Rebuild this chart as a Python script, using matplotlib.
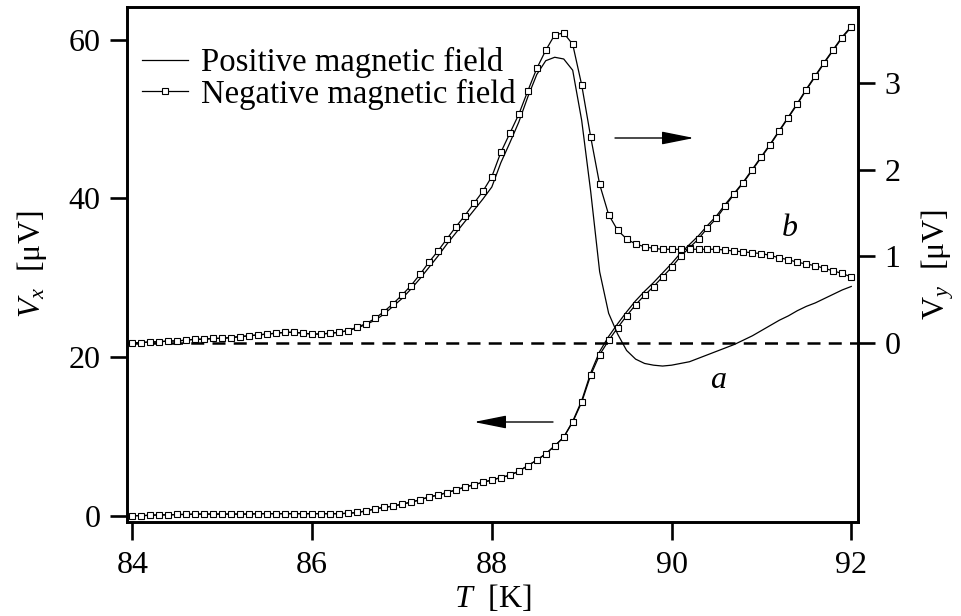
import numpy as np
import matplotlib
matplotlib.use("Agg")
import matplotlib.pyplot as plt
from matplotlib.lines import Line2D

plt.rcParams['font.family'] = ['Liberation Serif', 'DejaVu Serif']
plt.rcParams['mathtext.fontset'] = 'custom'
plt.rcParams['mathtext.rm'] = 'Liberation Serif'
plt.rcParams['mathtext.it'] = 'Liberation Serif:italic'

# temperature grid, K (84.0 ... 92.0 in 0.1 K steps)
T = np.linspace(84.0, 92.0, 81)

# V_x [uV], negative field (squares)
vx_neg = [0.0, 0.0, 0.05, 0.1, 0.1, 0.15, 0.15, 0.2, 0.2, 0.2,
          0.2, 0.2, 0.2, 0.2, 0.25, 0.25, 0.25, 0.25, 0.25, 0.25,
          0.25, 0.25, 0.25, 0.25, 0.3, 0.4, 0.6, 0.85, 1.05, 1.2,
          1.45, 1.7, 2.0, 2.35, 2.6, 2.9, 3.25, 3.6, 3.9, 4.2,
          4.5, 4.8, 5.1, 5.6, 6.3, 7.0, 7.8, 8.8, 9.9, 11.8,
          14.3, 17.7, 20.3, 22.1, 23.7, 25.2, 26.6, 27.8, 28.9, 30.1,
          31.3, 32.7, 33.8, 34.9, 36.3, 37.5, 39.1, 40.6, 42.0, 43.6,
          45.2, 46.8, 48.5, 50.2, 51.9, 53.7, 55.4, 57.1, 58.7, 60.3,
          61.6]

# V_x [uV], positive field (solid)
vx_pos = [0.0, 0.0, 0.05, 0.1, 0.1, 0.15, 0.15, 0.2, 0.2, 0.2,
          0.2, 0.2, 0.2, 0.2, 0.25, 0.25, 0.25, 0.25, 0.25, 0.25,
          0.25, 0.25, 0.25, 0.25, 0.3, 0.4, 0.6, 0.85, 1.05, 1.2,
          1.45, 1.7, 2.0, 2.35, 2.6, 2.9, 3.25, 3.6, 3.9, 4.2,
          4.5, 4.8, 5.1, 5.6, 6.3, 7.0, 7.8, 8.8, 9.9, 11.9,
          14.5, 18.0, 20.7, 22.6, 24.2, 25.7, 27.1, 28.3, 29.4, 30.6,
          31.8, 33.1, 34.2, 35.3, 36.6, 37.8, 39.3, 40.7, 42.1, 43.7,
          45.3, 46.9, 48.6, 50.3, 52.0, 53.8, 55.5, 57.2, 58.8, 60.4,
          61.7]

# V_y [uV], negative field (squares)
vy_neg = [0.00, 0.00, 0.01, 0.01, 0.02, 0.02, 0.03, 0.04, 0.04, 0.05,
          0.05, 0.06, 0.07, 0.08, 0.09, 0.10, 0.11, 0.12, 0.12, 0.11,
          0.10, 0.10, 0.11, 0.12, 0.14, 0.18, 0.22, 0.28, 0.36, 0.45,
          0.55, 0.66, 0.79, 0.93, 1.06, 1.20, 1.34, 1.47, 1.61, 1.75,
          1.92, 2.20, 2.42, 2.64, 2.91, 3.17, 3.38, 3.56, 3.58, 3.45,
          2.98, 2.38, 1.83, 1.48, 1.30, 1.20, 1.14, 1.11, 1.09, 1.08,
          1.08, 1.08, 1.08, 1.08, 1.08, 1.08, 1.07, 1.06, 1.05, 1.04,
          1.03, 1.01, 0.98, 0.96, 0.93, 0.91, 0.89, 0.86, 0.83, 0.80,
          0.76]

# V_y [uV], positive field (solid)
vy_pos = [0.00, 0.00, 0.01, 0.01, 0.02, 0.02, 0.03, 0.04, 0.04, 0.05,
          0.05, 0.06, 0.07, 0.08, 0.09, 0.10, 0.11, 0.12, 0.12, 0.11,
          0.10, 0.10, 0.11, 0.12, 0.14, 0.17, 0.21, 0.26, 0.33, 0.42,
          0.51, 0.62, 0.74, 0.87, 1.00, 1.14, 1.27, 1.40, 1.53, 1.66,
          1.80, 2.08, 2.31, 2.55, 2.84, 3.10, 3.26, 3.30, 3.28, 3.15,
          2.57, 1.75, 0.82, 0.34, 0.10, -0.09, -0.19, -0.24, -0.26, -0.27,
          -0.26, -0.24, -0.22, -0.18, -0.14, -0.10, -0.06, -0.02, 0.03, 0.08,
          0.14, 0.20, 0.26, 0.31, 0.37, 0.42, 0.46, 0.51, 0.56, 0.61,
          0.65]

W, H = 961, 616
FS = 23


def fig_xy(px, py):
    return px / W, 1 - py / H


fig = plt.figure(figsize=(W / 100, H / 100), dpi=100)
ax = fig.add_axes([127 / W, 1 - 522 / H, 731 / W, 515 / H])
ax2 = ax.twinx()

mk = dict(marker='s', markersize=4.6, markerfacecolor='white',
          markeredgecolor='black', markeredgewidth=0.8)

ax.plot(T, vx_pos, color='black', lw=0.9)
ax.plot(T, vx_neg, color='black', lw=0.9, **mk)

ax2.axhline(0, color='black', lw=1.8, dashes=(5.2, 3.3))
ax2.plot(T, vy_pos, color='black', lw=0.9)
ax2.plot(T, vy_neg, color='black', lw=0.9, **mk)

ax.set_xlim(83.94, 92.075)
ax.set_ylim(-0.8, 64.15)
ax2.set_ylim(-2.073, 3.881)

ax.set_xticks([84, 86, 88, 90, 92])
ax.set_yticks([0, 20, 40, 60])
ax2.set_yticks([0, 1, 2, 3])

for a in (ax, ax2):
    for s in a.spines.values():
        s.set_linewidth(1.9)
ax.tick_params(axis='both', direction='out', length=12, width=1.9,
               labelsize=FS, pad=7)
ax.tick_params(axis='x', length=13, pad=8)
ax2.tick_params(axis='y', direction='out', length=12, width=1.9,
                labelsize=FS, pad=7)

ax.set_xlabel(r'$T$  [K]', fontsize=FS, labelpad=2)
ax.set_ylabel(r'$V_x$  [μV]', fontsize=FS, labelpad=14)
ax2.set_ylabel(r'$\mathrm{V}_y$  [μV]', fontsize=FS, labelpad=14)

handles = [Line2D([], [], color='black', lw=0.9),
           Line2D([], [], color='black', lw=0.9, **mk)]
ax2.legend(handles, ['Positive magnetic field', 'Negative magnetic field'],
           loc='upper left', bbox_to_anchor=fig_xy(142, 47),
           bbox_transform=fig.transFigure, frameon=False, fontsize=23.6,
           borderpad=0, borderaxespad=0, handlelength=1.4,
           handletextpad=0.4, labelspacing=0.02, numpoints=1)

arr = dict(arrowstyle='-|>,head_length=1.0,head_width=0.2',
           color='black', lw=1.0, mutation_scale=20, shrinkA=0, shrinkB=0)
ax2.annotate('', xy=fig_xy(694, 138), xytext=fig_xy(615, 138),
             xycoords='figure fraction', textcoords='figure fraction',
             arrowprops=arr)
ax2.annotate('', xy=fig_xy(474, 422), xytext=fig_xy(553, 422),
             xycoords='figure fraction', textcoords='figure fraction',
             arrowprops=arr)

ax2.text(*fig_xy(718, 381), 'a', style='italic', fontsize=FS,
         transform=fig.transFigure, ha='center', va='center')
ax2.text(*fig_xy(790, 229), 'b', style='italic', fontsize=FS,
         transform=fig.transFigure, ha='center', va='center')

fig.savefig('out.png', dpi=100)
